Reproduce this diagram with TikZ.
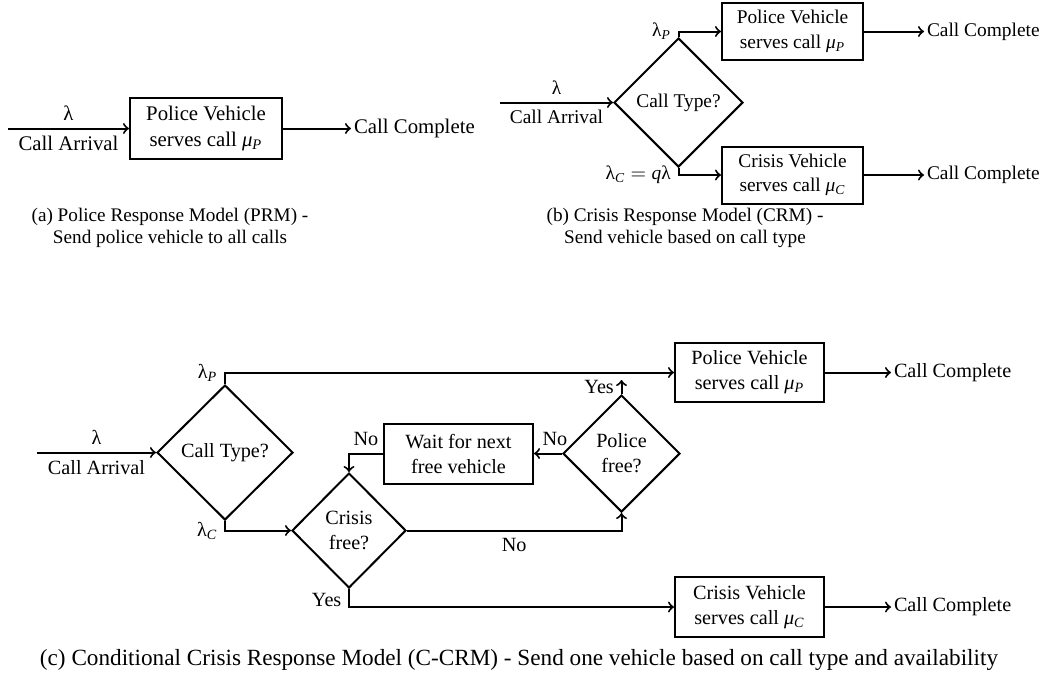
\documentclass[tikz,border=0pt]{standalone}
\usepackage{amsmath}
\usepackage{fontspec}
\setmainfont{Liberation Serif}
\usetikzlibrary{shapes.geometric}
\newcommand{\isub}[1]{$_{\text{\itshape #1}}$}
\begin{document}
\begin{tikzpicture}[x=0.5pt,y=-0.5pt,line width=1pt,
 proc/.style={draw,rectangle,align=center,inner sep=2pt,minimum width=74.5pt,minimum height=29.5pt},
 choice/.style={draw,diamond,aspect=1,align=center,inner sep=0pt},
 flow/.style={->},
 done/.style={anchor=west,inner sep=1pt},
 subcap/.style={align=center,font=\fontsize{9.6}{11}\selectfont},
 maincap/.style={align=center,font=\fontsize{11.6}{11.5}\selectfont}]
\useasboundingbox (0,0) rectangle (1044,682);

%(a) PRM
\begin{scope}[font=\fontsize{10.4}{12.8}\selectfont]
 \coordinate (ain) at (8,128.5);
 \node[proc,minimum width=76pt,minimum height=30.5pt] (aprm) at (206,128.5) {Police Vehicle\\serves call \textit{μ}\isub{P}};
 \node[done] (adone) at (351,128.5) {Call Complete};
 \draw[flow] (ain)--(aprm) node[midway,above]{λ} node[midway,below]{Call Arrival};
 \draw[flow] (aprm)--(adone);
\end{scope}
\node[subcap] (acap) at (170,228) {(a) Police Response Model (PRM) -\\Send police vehicle to all calls};

%(b) CRM
\begin{scope}[font=\fontsize{9.7}{12.2}\selectfont]
 \coordinate (bin) at (500,102.5);
 \node[choice,minimum width=64.5pt,minimum height=64.5pt] (btype) at (678.5,102.5) {Call Type?};
 \node[proc,minimum width=70.5pt,minimum height=28.5pt] (bpol) at (792.5,31.5) {Police Vehicle\\serves call \textit{μ}\isub{P}};
 \node[proc,minimum width=70.5pt,minimum height=28.5pt] (bcri) at (792.5,175) {Crisis Vehicle\\serves call \textit{μ}\isub{C}};
 \node[done] (bdone1) at (924,31.5) {Call Complete};
 \node[done] (bdone2) at (924,175) {Call Complete};
 \draw[flow] (bin)--(btype) node[midway,above]{λ} node[midway,below]{Call Arrival};
 \draw[flow] (btype.north) |- (bpol) node[pos=0.5,left]{λ\isub{P}};
 \draw[flow] (btype.south) |- (bcri) node[pos=0.5,left]{λ\isub{C}$\;=\;$\textit{q}λ};
 \draw[flow] (bpol)--(bdone1);
 \draw[flow] (bcri)--(bdone2);
\end{scope}
\node[subcap] (bcap) at (685,228) {(b) Crisis Response Model (CRM) -\\Send vehicle based on call type};

%(c) C-CRM
\begin{scope}[font=\fontsize{10.1}{12.5}\selectfont]
 \coordinate (cin) at (37,452.5);
 \node[choice,minimum width=68pt,minimum height=67.5pt] (ctype) at (225,452.5) {Call Type?};
 \node[proc] (cpol) at (749.5,372.5) {Police Vehicle\\serves call \textit{μ}\isub{P}};
 \node[proc,minimum height=30pt] (ccri) at (749.5,607) {Crisis Vehicle\\serves call \textit{μ}\isub{C}};
 \node[choice,minimum width=57pt,minimum height=57.5pt] (cfree) at (349,530.5) {Crisis\\free?};
 \node[choice,minimum width=58.5pt,minimum height=58.5pt] (pfree) at (621.5,453.5) {Police\\free?};
 \node[proc,minimum height=30pt] (cwait) at (458.5,453.5) {Wait for next\\free vehicle};
 \coordinate (pyes) at (621.5,380);
 \node[done] (cdone1) at (891,372.5) {Call Complete};
 \node[done] (cdone2) at (891,607) {Call Complete};
 \draw[flow] (cin)--(ctype) node[midway,above]{λ} node[midway,below]{Call Arrival};
 \draw[flow] (ctype.north) |- (cpol) node[pos=0.5,left]{λ\isub{P}};
 \draw[flow] (ctype.south) |- (cfree) node[pos=0.5,left]{λ\isub{C}};
 \draw[flow] (cfree.east) -| (pfree.south) node[pos=0.25,below]{No};
 \draw[flow] (pfree.north) -- (pyes) node[midway,left]{Yes};
 \draw[flow] (pfree.west) -- (cwait.east) node[pos=0.25,above]{No};
 \draw[flow] (cwait.west) -| (cfree.north) node[pos=0.25,above]{No};
 \draw[flow] (cfree.south) |- (ccri) node[pos=0.3,left]{Yes};
 \draw[flow] (cpol)--(cdone1);
 \draw[flow] (ccri)--(cdone2);
\end{scope}
\node[maincap] (ccap) at (519,660) {(c) Conditional Crisis Response Model (C-CRM) - Send one vehicle based on call type and availability};
\end{tikzpicture}
\end{document}
